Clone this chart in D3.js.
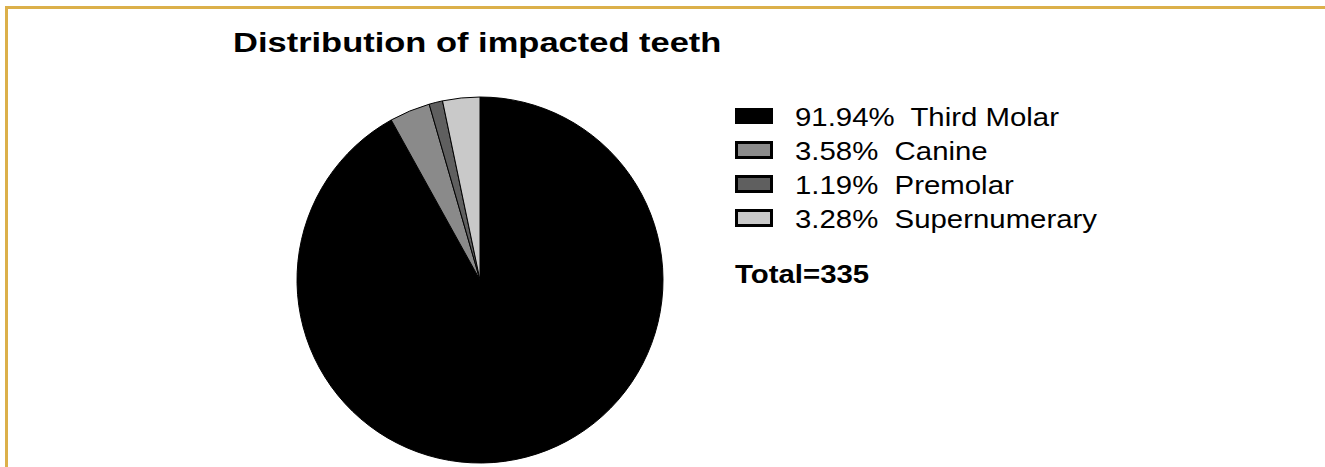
<!DOCTYPE html>
<html>
<head>
<meta charset="utf-8">
<script src="https://cdn.jsdelivr.net/npm/d3@7"></script>
<style>
  html, body { margin: 0; padding: 0; background: #fff; }
  text { font-family: "Liberation Sans", Arial, sans-serif; white-space: pre; }
</style>
</head>
<body>
<div id="chart"></div>
<script>
// data (counts out of 335)
const categories = ["Third Molar", "Canine", "Premolar", "Supernumerary"];
const counts = [308, 12, 4, 11];
const fills = ["#000000", "#8a8a8a", "#5f5f5f", "#c9c9c9"];
const title = "Distribution of impacted teeth";

const width = 1325, height = 467;
const total = d3.sum(counts);

const svg = d3.select("#chart").append("svg")
  .attr("width", width)
  .attr("height", height);

// gold frame (top + left edges only are visible)
svg.append("line").attr("x1", 5).attr("x2", width).attr("y1", 7.5).attr("y2", 7.5)
  .attr("stroke", "#dcb04a").attr("stroke-width", 3);
svg.append("line").attr("x1", 6.5).attr("x2", 6.5).attr("y1", 6).attr("y2", height)
  .attr("stroke", "#dcb04a").attr("stroke-width", 3);

// text in the figure is a bit stretched horizontally
svg.append("text")
  .attr("transform", "translate(233,52) scale(1.21,1)")
  .attr("font-size", 28.5)
  .attr("font-weight", "bold")
  .text(title);

//pie
const cx = 480, cy = 280, r = 183;
const pie = d3.pie().sort(null).value(d => d);
const arc = d3.arc().innerRadius(0).outerRadius(r);

svg.append("g")
  .attr("transform", `translate(${cx},${cy})`)
  .selectAll("path").data(pie(counts)).enter().append("path")
  .attr("d", arc)
  .attr("fill", (d, i) => fills[i])
  .attr("stroke", "#000")
  .attr("stroke-width", 1);

//legend
const pct = d3.format(".2f");
const rowY = d3.scaleLinear().domain([0, 1]).range([116, 150]);

const rows = svg.append("g").selectAll("g").data(categories).enter().append("g")
  .attr("transform", (d, i) => `translate(0,${rowY(i)})`);

rows.append("rect")
  .attr("x", (d, i) => i === 0 ? 735 : 736.5)
  .attr("y", (d, i) => i === 0 ? -8 : -7.5)
  .attr("width", (d, i) => i === 0 ? 38 : 35)
  .attr("height", (d, i) => i === 0 ? 16 : 15)
  .attr("fill", (d, i) => fills[i])
  .attr("stroke", "#000")
  .attr("stroke-width", (d, i) => i === 0 ? 0 : 3);

rows.append("text")
  .attr("transform", "translate(795,10) scale(1.13,1)")
  .attr("font-size", 26)
  .text((d, i) => pct(counts[i] / total * 100) + "%  " + d);

svg.append("text")
  .attr("transform", "translate(735,283) scale(1.13,1)")
  .attr("font-size", 26)
  .attr("font-weight", "bold")
  .text("Total=" + total);
</script>
</body>
</html>
